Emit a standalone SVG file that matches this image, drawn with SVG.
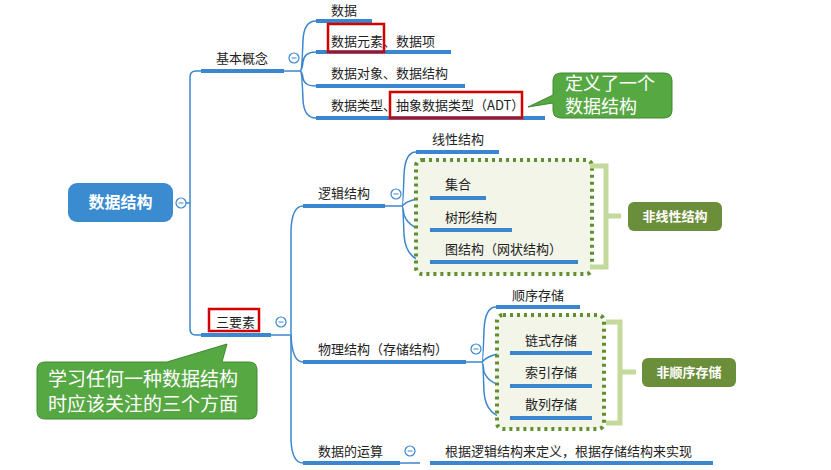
<svg xmlns="http://www.w3.org/2000/svg" width="831" height="470" viewBox="0 0 831 470">
<style>
text{font-family:"Noto Sans CJK SC","Liberation Sans",sans-serif;font-size:13px;fill:#222}
.ul{stroke:#3a86cf;stroke-width:4;fill:none}
.ln{stroke:#3a86cf;stroke-width:1.5;fill:none}
.col{fill:#fff;stroke:#3a86cf;stroke-width:1.2}
.red{fill:none;stroke:#d40000;stroke-width:2.5}
.dot{fill:#f2f5e8;stroke:#5f8f2f;stroke-width:4;stroke-dasharray:3 4}
.br{fill:none;stroke:#c4d99c;stroke-width:5}
.gb{fill:#6a8e3a}
.wt{fill:#fff;font-weight:bold}
.cw{fill:#fff;font-size:18px}
</style>
<g id="connectors">
<path class="ln" d="M181 203 H190 M201 71 H196 Q190 71 190 77 V329 Q190 335 196 335 H201"/>
<path class="ln" d="M284 71 H300 M316 21 Q304 21 303 40 Q302 71 300 71 M316 52 Q304 52 303 62 Q302 71 300 71 M316 86 Q304 86 303 78 Q302 71 300 71 M316 118 Q304 118 303 100 Q302 71 300 71"/>
<path class="ln" d="M271 335 H290 M303 206 Q292 206 291 230 V335 V440 Q292 463 303 463"/>
<path class="ln" d="M291 335 Q292 362 303 362"/>
<path class="ln" d="M385 206 H402 M416 152 Q405 152 404 175 Q403 206 402 206 M430 198 Q410 198 402 206 M430 230 Q410 230 404 215 Q403 206 402 206 M430 262 Q406 262 404 235 Q403 206 402 206"/>
<path class="ln" d="M466 362 H482 M496 307 Q485 307 484 330 Q483 362 482 362 M510 353 Q490 353 482 362 M510 386 Q490 386 484 372 Q483 362 482 362 M510 418 Q486 418 484 392 Q483 362 482 362"/>
<path class="ln" d="M400 463 H420"/>
</g>
<g id="root">
<rect x="68" y="183" width="105" height="39" rx="9" fill="#3a8bd0"/>
<text x="120.5" y="208" class="wt" text-anchor="middle" style="font-size:16px">数据结构</text>
<circle class="col" cx="181" cy="203" r="5"/><path d="M178.5 203h5" stroke="#3a86cf"/>
</g>
<g id="jiben">
<text x="216" y="63">基本概念</text><path class="ul" d="M201 71 H284"/>
<circle class="col" cx="294" cy="58" r="5"/><path d="M291.5 58h5" stroke="#3a86cf"/>
</g>
<g id="n1"><text x="331" y="15">数据</text><path class="ul" d="M316 21 H372"/></g>
<g id="n2"><text x="331" y="46">数据元素、数据项</text><path class="ul" d="M316 52 H451"/><rect class="red" x="328" y="24" width="56" height="28"/></g>
<g id="n3"><text x="331" y="78">数据对象、数据结构</text><path class="ul" d="M316 86 H465"/></g>
<g id="n4"><text x="331" y="110">数据类型、抽象数据类型（ADT）</text><path class="ul" d="M316 118 H545"/><rect class="red" x="390" y="92" width="132" height="26"/></g>
<g id="callout1">
<path d="M561 73 H664 Q672 73 672 81 V110 Q672 118 664 118 H561 Q553 118 553 110 V103 L528 107 L553 95 V81 Q553 73 561 73 Z" fill="#56a843" stroke="#3f8a30"/>
<text x="565" y="90" class="cw">定义了一个</text><text x="565" y="113" class="cw">数据结构</text>
</g>
<g id="sanyaosu">
<text x="216" y="327">三要素</text><path class="ul" d="M201 335 H271"/><rect class="red" x="209" y="309" width="50" height="22"/>
<circle class="col" cx="281" cy="322" r="5"/><path d="M278.5 322h5" stroke="#3a86cf"/>
</g>
<g id="callout2">
<path d="M45 362 H167 L227 344 L222 362 H249 Q257 362 257 370 V411 Q257 419 249 419 H45 Q37 419 37 411 V370 Q37 362 45 362 Z" fill="#56a843" stroke="#3f8a30"/>
<text x="48" y="386" class="cw" style="font-size:19px">学习任何一种数据结构</text><text x="48" y="411" class="cw" style="font-size:19px">时应该关注的三个方面</text>
</g>
<g id="luoji">
<text x="318" y="198">逻辑结构</text><path class="ul" d="M303 206 H385"/>
<circle class="col" cx="396" cy="194" r="5"/><path d="M393.5 194h5" stroke="#3a86cf"/>
</g>
<g id="xianxing"><text x="432" y="144">线性结构</text><path class="ul" d="M416 152 H499"/></g>
<g id="feixianxing-group">
<rect class="dot" x="416" y="160" width="176" height="114" rx="6"/>
<path class="br" d="M590 166 H606 V267 H590 M606 216 H621"/>
<rect class="gb" x="628" y="202" width="94" height="29" rx="6"/>
<text x="675" y="221" class="wt" text-anchor="middle">非线性结构</text>
</g>
<g id="jihe"><text x="445" y="189">集合</text><path class="ul" d="M430 198 H486"/></g>
<g id="shuxing"><text x="445" y="222">树形结构</text><path class="ul" d="M430 230 H512"/></g>
<g id="tu"><text x="445" y="254">图结构（网状结构）</text><path class="ul" d="M430 262 H578"/></g>
<g id="wuli">
<text x="318" y="354">物理结构（存储结构）</text><path class="ul" d="M303 362 H466"/>
<circle class="col" cx="476" cy="349" r="5"/><path d="M473.5 349h5" stroke="#3a86cf"/>
</g>
<g id="shunxu"><text x="512" y="300">顺序存储</text><path class="ul" d="M496 307 H580"/></g>
<g id="feishunxu-group">
<rect class="dot" x="497" y="315" width="107" height="114" rx="6"/>
<path class="br" d="M606 322 H620 V423 H606 M620 372 H636"/>
<rect class="gb" x="642" y="358" width="94" height="29" rx="6"/>
<text x="689" y="377" class="wt" text-anchor="middle">非顺序存储</text>
</g>
<g id="lianshi"><text x="525" y="345">链式存储</text><path class="ul" d="M510 353 H592"/></g>
<g id="suoyin"><text x="525" y="377">索引存储</text><path class="ul" d="M510 386 H592"/></g>
<g id="sanlie"><text x="525" y="409">散列存储</text><path class="ul" d="M510 418 H592"/></g>
<g id="yunsuan">
<text x="318" y="456">数据的运算</text><path class="ul" d="M303 463 H400"/>
<circle class="col" cx="410" cy="451" r="5"/><path d="M407.5 451h5" stroke="#3a86cf"/>
</g>
<g id="yunsuan-desc"><text x="445" y="456">根据逻辑结构来定义，根据存储结构来实现</text><path class="ul" d="M430 463 H713"/></g>
</svg>
